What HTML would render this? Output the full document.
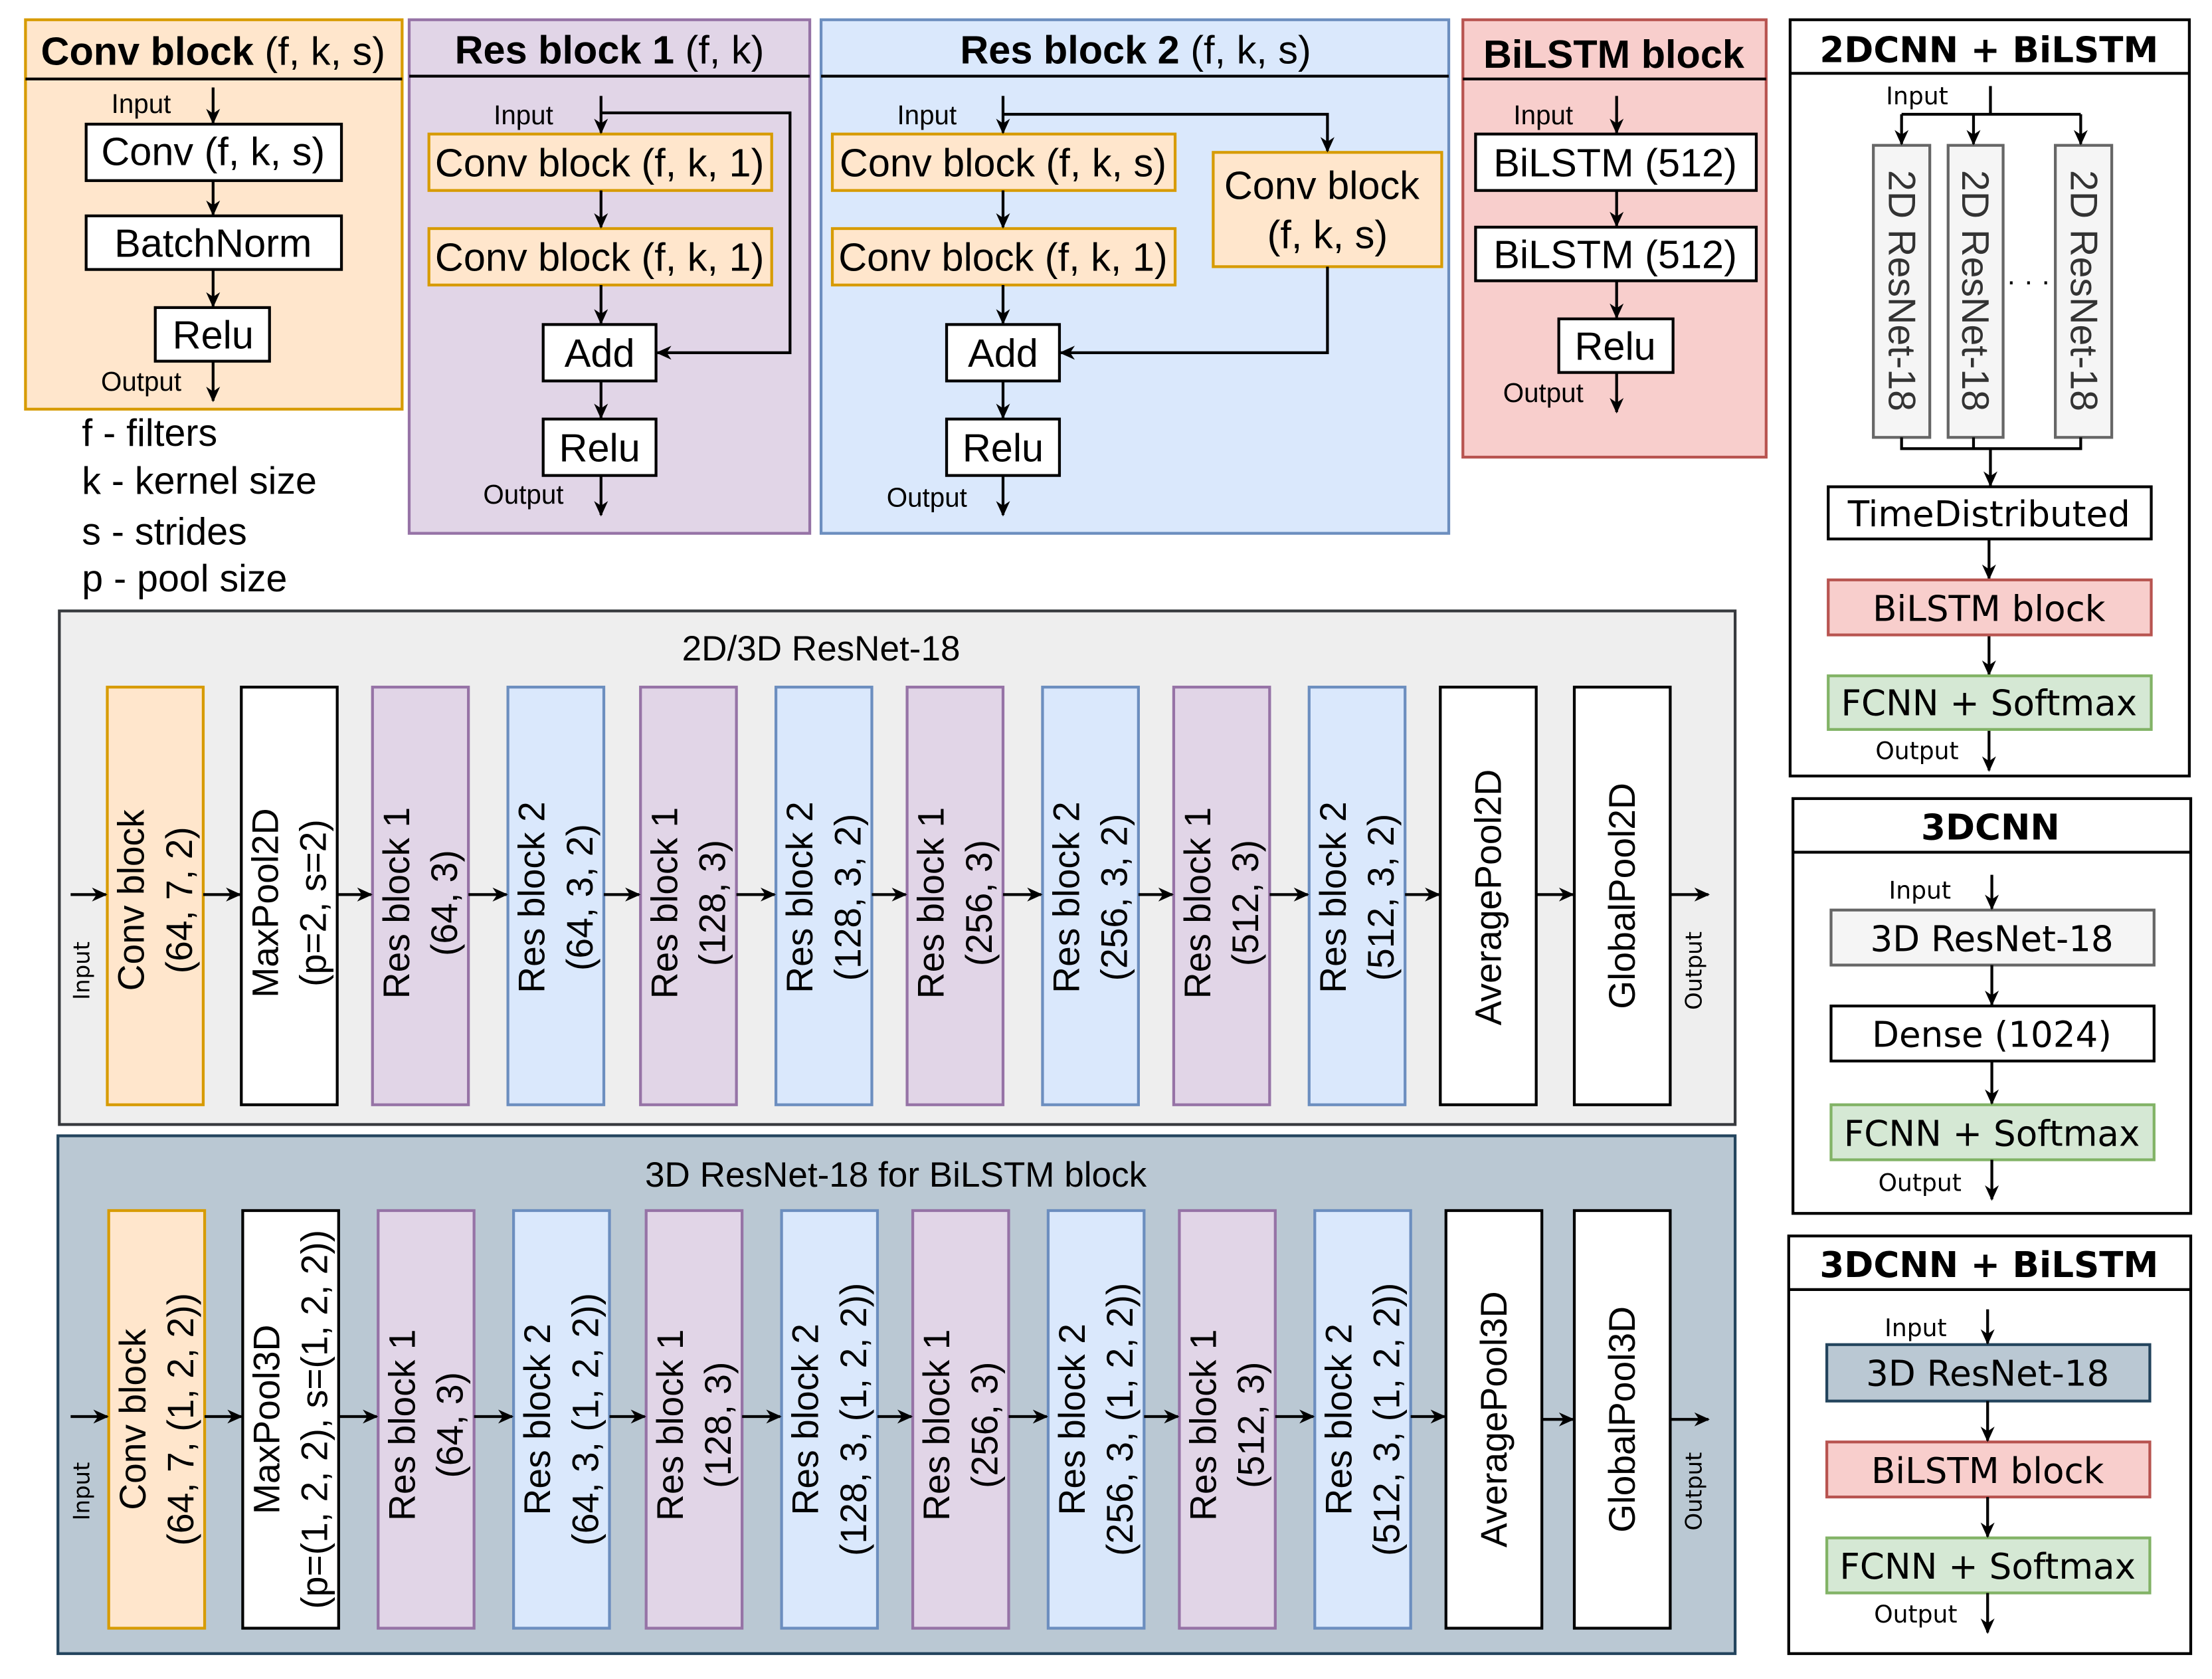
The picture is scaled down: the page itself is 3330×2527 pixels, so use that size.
<!DOCTYPE html>
<html><head><meta charset="utf-8"><style>
html,body{margin:0;padding:0;background:#fff}
svg{display:block}
.n{font-family:"Liberation Sans Narrow","Liberation Sans",sans-serif}
.s{font-family:"Liberation Sans",sans-serif}
.d{font-family:"DejaVu Sans","Liberation Sans",sans-serif}
</style></head><body>
<svg xmlns="http://www.w3.org/2000/svg" width="3330" height="2527" viewBox="0 0 1568 1190">
<defs>
<marker id="a" viewBox="0 0 10 10" refX="9" refY="5" markerWidth="11" markerHeight="11" orient="auto" markerUnits="userSpaceOnUse"><path d="M0,0.5 L10,5 L0,9.5 L3,5 Z" fill="#000"/></marker>
</defs>

<!-- Conv block panel -->
<rect x="18" y="14" width="267" height="276" fill="#ffe6cc" stroke="#d79b00" stroke-width="2"/>
<line x1="18" y1="56" x2="285" y2="56" stroke="#000" stroke-width="2"/>
<text class="n" x="151" y="46" font-size="28" text-anchor="middle"><tspan font-weight="bold">Conv block</tspan> (f, k, s)</text>
<text class="n" x="100" y="80" font-size="19" text-anchor="middle">Input</text>
<rect x="61" y="88" width="181" height="40" fill="#fff" stroke="#000" stroke-width="2"/>
<text class="n" x="151" y="117" font-size="28" text-anchor="middle">Conv (f, k, s)</text>
<rect x="61" y="153" width="181" height="38" fill="#fff" stroke="#000" stroke-width="2"/>
<text class="n" x="151" y="182" font-size="28" text-anchor="middle">BatchNorm</text>
<rect x="110" y="218" width="81" height="38" fill="#fff" stroke="#000" stroke-width="2"/>
<text class="n" x="151" y="247" font-size="28" text-anchor="middle">Relu</text>
<text class="n" x="100" y="277" font-size="19" text-anchor="middle">Output</text>
<g stroke="#000" stroke-width="2" marker-end="url(#a)">
<line x1="151" y1="62" x2="151" y2="87"/>
<line x1="151" y1="128" x2="151" y2="152"/>
<line x1="151" y1="191" x2="151" y2="217"/>
<line x1="151" y1="256" x2="151" y2="284"/>
</g>
<g class="n" font-size="27">
<text x="58" y="316">f - filters</text>
<text x="58" y="350">k - kernel size</text>
<text x="58" y="386">s - strides</text>
<text x="58" y="419">p - pool size</text>
</g>

<!-- Res block 1 -->
<rect x="290" y="14" width="284" height="364" fill="#e1d5e7" stroke="#9673a6" stroke-width="2"/>
<line x1="290" y1="54" x2="574" y2="54" stroke="#000" stroke-width="2"/>
<text class="n" x="432" y="45" font-size="28" text-anchor="middle"><tspan font-weight="bold">Res block 1</tspan> (f, k)</text>
<text class="n" x="371" y="88" font-size="19" text-anchor="middle">Input</text>
<rect x="304" y="95" width="243" height="40" fill="#ffe6cc" stroke="#d79b00" stroke-width="2"/>
<text class="n" x="425" y="125" font-size="28" text-anchor="middle">Conv block (f, k, 1)</text>
<rect x="304" y="162" width="243" height="40" fill="#ffe6cc" stroke="#d79b00" stroke-width="2"/>
<text class="n" x="425" y="192" font-size="28" text-anchor="middle">Conv block (f, k, 1)</text>
<rect x="385" y="230" width="80" height="40" fill="#fff" stroke="#000" stroke-width="2"/>
<text class="n" x="425" y="260" font-size="28" text-anchor="middle">Add</text>
<rect x="385" y="297" width="80" height="40" fill="#fff" stroke="#000" stroke-width="2"/>
<text class="n" x="425" y="327" font-size="28" text-anchor="middle">Relu</text>
<text class="n" x="371" y="357" font-size="19" text-anchor="middle">Output</text>
<g stroke="#000" stroke-width="2" fill="none" marker-end="url(#a)">
<line x1="426" y1="68" x2="426" y2="94"/>
<polyline points="426,80 560,80 560,250 466,250"/>
<line x1="426" y1="135" x2="426" y2="161"/>
<line x1="426" y1="202" x2="426" y2="229"/>
<line x1="426" y1="270" x2="426" y2="296"/>
<line x1="426" y1="337" x2="426" y2="365"/>
</g>

<!-- Res block 2 -->
<rect x="582" y="14" width="445" height="364" fill="#dae8fc" stroke="#6c8ebf" stroke-width="2"/>
<line x1="582" y1="54" x2="1027" y2="54" stroke="#000" stroke-width="2"/>
<text class="n" x="805" y="45" font-size="28" text-anchor="middle"><tspan font-weight="bold">Res block 2</tspan>  (f, k, s)</text>
<text class="n" x="657" y="88" font-size="19" text-anchor="middle">Input</text>
<rect x="590" y="95" width="243" height="40" fill="#ffe6cc" stroke="#d79b00" stroke-width="2"/>
<text class="n" x="711" y="125" font-size="28" text-anchor="middle">Conv block (f, k, s)</text>
<rect x="590" y="162" width="243" height="40" fill="#ffe6cc" stroke="#d79b00" stroke-width="2"/>
<text class="n" x="711" y="192" font-size="28" text-anchor="middle">Conv block (f, k, 1)</text>
<rect x="860" y="108" width="162" height="81" fill="#ffe6cc" stroke="#d79b00" stroke-width="2"/>
<text class="n" x="937" y="141" font-size="28" text-anchor="middle">Conv block</text>
<text class="n" x="941" y="176" font-size="28" text-anchor="middle">(f, k, s)</text>
<rect x="671" y="230" width="80" height="40" fill="#fff" stroke="#000" stroke-width="2"/>
<text class="n" x="711" y="260" font-size="28" text-anchor="middle">Add</text>
<rect x="671" y="297" width="80" height="40" fill="#fff" stroke="#000" stroke-width="2"/>
<text class="n" x="711" y="327" font-size="28" text-anchor="middle">Relu</text>
<text class="n" x="657" y="359" font-size="19" text-anchor="middle">Output</text>
<g stroke="#000" stroke-width="2" fill="none" marker-end="url(#a)">
<line x1="711" y1="68" x2="711" y2="94"/>
<polyline points="711,81 941,81 941,107"/>
<polyline points="941,189 941,250 752,250"/>
<line x1="711" y1="135" x2="711" y2="161"/>
<line x1="711" y1="202" x2="711" y2="229"/>
<line x1="711" y1="270" x2="711" y2="296"/>
<line x1="711" y1="337" x2="711" y2="365"/>
</g>

<!-- BiLSTM block -->
<rect x="1037" y="14" width="215" height="310" fill="#f8cecc" stroke="#b85450" stroke-width="2"/>
<line x1="1037" y1="56" x2="1252" y2="56" stroke="#000" stroke-width="2"/>
<text class="n" x="1144" y="48" font-size="28" font-weight="bold" text-anchor="middle">BiLSTM block</text>
<text class="n" x="1094" y="88" font-size="19" text-anchor="middle">Input</text>
<rect x="1046" y="95" width="199" height="40" fill="#fff" stroke="#000" stroke-width="2"/>
<text class="n" x="1145" y="125" font-size="28" text-anchor="middle">BiLSTM (512)</text>
<rect x="1046" y="161" width="199" height="38" fill="#fff" stroke="#000" stroke-width="2"/>
<text class="n" x="1145" y="190" font-size="28" text-anchor="middle">BiLSTM (512)</text>
<rect x="1105" y="226" width="81" height="38" fill="#fff" stroke="#000" stroke-width="2"/>
<text class="n" x="1145" y="255" font-size="28" text-anchor="middle">Relu</text>
<text class="n" x="1094" y="285" font-size="19" text-anchor="middle">Output</text>
<g stroke="#000" stroke-width="2" marker-end="url(#a)">
<line x1="1146" y1="68" x2="1146" y2="94"/>
<line x1="1146" y1="135" x2="1146" y2="160"/>
<line x1="1146" y1="199" x2="1146" y2="225"/>
<line x1="1146" y1="264" x2="1146" y2="292"/>
</g>

<!-- 2DCNN + BiLSTM -->
<rect x="1269" y="14" width="283" height="536" fill="#fff" stroke="#000" stroke-width="2"/>
<line x1="1269" y1="52" x2="1552" y2="52" stroke="#000" stroke-width="2"/>
<text class="d" x="1410" y="44" font-size="25" font-weight="bold" text-anchor="middle">2DCNN + BiLSTM</text>
<text class="d" x="1359" y="74" font-size="17" text-anchor="middle">Input</text>
<g fill="#f5f5f5" stroke="#666" stroke-width="2">
<rect x="1328" y="103" width="40" height="207"/>
<rect x="1381" y="103" width="39" height="207"/>
<rect x="1457" y="103" width="40" height="207"/>
</g>
<g class="s" font-size="27" fill="#333" text-anchor="middle">
<text transform="translate(1348,206) rotate(90)" dominant-baseline="central">2D ResNet-18</text>
<text transform="translate(1400,206) rotate(90)" dominant-baseline="central">2D ResNet-18</text>
<text transform="translate(1477,206) rotate(90)" dominant-baseline="central">2D ResNet-18</text>
</g>
<text class="s" x="1438" y="206" font-size="20" text-anchor="middle">· · ·</text>
<g stroke="#000" stroke-width="2" fill="none">
<line x1="1411" y1="61" x2="1411" y2="81"/>
<line x1="1348" y1="81" x2="1475" y2="81"/>
<polyline points="1348,310 1348,318 1475,318 1475,310"/>
<line x1="1399" y1="310" x2="1399" y2="318"/>
</g>
<g stroke="#000" stroke-width="2" marker-end="url(#a)">
<line x1="1348" y1="81" x2="1348" y2="102"/>
<line x1="1399" y1="81" x2="1399" y2="102"/>
<line x1="1475" y1="81" x2="1475" y2="102"/>
<line x1="1411" y1="318" x2="1411" y2="344"/>
<line x1="1410" y1="382" x2="1410" y2="410"/>
<line x1="1410" y1="450" x2="1410" y2="478"/>
<line x1="1410" y1="517" x2="1410" y2="546"/>
</g>
<rect x="1296" y="345" width="229" height="37" fill="#fff" stroke="#000" stroke-width="2"/>
<text class="d" x="1410" y="373" font-size="25" text-anchor="middle">TimeDistributed</text>
<rect x="1296" y="411" width="229" height="39" fill="#f8cecc" stroke="#b85450" stroke-width="2"/>
<text class="d" x="1410" y="440" font-size="25" text-anchor="middle">BiLSTM block</text>
<rect x="1296" y="479" width="229" height="38" fill="#d5e8d4" stroke="#82b366" stroke-width="2"/>
<text class="d" x="1410" y="507" font-size="25" text-anchor="middle">FCNN + Softmax</text>
<text class="d" x="1359" y="538" font-size="17" text-anchor="middle">Output</text>

<!-- 3DCNN -->
<rect x="1271" y="566" width="282" height="294" fill="#fff" stroke="#000" stroke-width="2"/>
<line x1="1271" y1="604" x2="1553" y2="604" stroke="#000" stroke-width="2"/>
<text class="d" x="1411" y="595" font-size="25" font-weight="bold" text-anchor="middle">3DCNN</text>
<text class="d" x="1361" y="637" font-size="17" text-anchor="middle">Input</text>
<rect x="1298" y="645" width="229" height="39" fill="#f5f5f5" stroke="#666" stroke-width="2"/>
<text class="d" x="1412" y="674" font-size="25" text-anchor="middle">3D ResNet-18</text>
<rect x="1298" y="713" width="229" height="39" fill="#fff" stroke="#000" stroke-width="2"/>
<text class="d" x="1412" y="742" font-size="25" text-anchor="middle">Dense (1024)</text>
<rect x="1298" y="783" width="229" height="39" fill="#d5e8d4" stroke="#82b366" stroke-width="2"/>
<text class="d" x="1412" y="812" font-size="25" text-anchor="middle">FCNN + Softmax</text>
<text class="d" x="1361" y="844" font-size="17" text-anchor="middle">Output</text>
<g stroke="#000" stroke-width="2" marker-end="url(#a)">
<line x1="1412" y1="620" x2="1412" y2="644"/>
<line x1="1412" y1="684" x2="1412" y2="712"/>
<line x1="1412" y1="752" x2="1412" y2="782"/>
<line x1="1412" y1="822" x2="1412" y2="850"/>
</g>

<!-- 3DCNN + BiLSTM -->
<rect x="1268" y="876" width="285" height="296" fill="#fff" stroke="#000" stroke-width="2"/>
<line x1="1268" y1="914" x2="1553" y2="914" stroke="#000" stroke-width="2"/>
<text class="d" x="1410" y="905" font-size="25" font-weight="bold" text-anchor="middle">3DCNN + BiLSTM</text>
<text class="d" x="1358" y="947" font-size="17" text-anchor="middle">Input</text>
<rect x="1295" y="953" width="229" height="40" fill="#bac8d3" stroke="#23445d" stroke-width="2"/>
<text class="d" x="1409" y="982" font-size="25" text-anchor="middle">3D ResNet-18</text>
<rect x="1295" y="1022" width="229" height="39" fill="#f8cecc" stroke="#b85450" stroke-width="2"/>
<text class="d" x="1409" y="1051" font-size="25" text-anchor="middle">BiLSTM block</text>
<rect x="1295" y="1090" width="229" height="39" fill="#d5e8d4" stroke="#82b366" stroke-width="2"/>
<text class="d" x="1409" y="1119" font-size="25" text-anchor="middle">FCNN + Softmax</text>
<text class="d" x="1358" y="1150" font-size="17" text-anchor="middle">Output</text>
<g stroke="#000" stroke-width="2" marker-end="url(#a)">
<line x1="1409" y1="928" x2="1409" y2="952"/>
<line x1="1409" y1="993" x2="1409" y2="1021"/>
<line x1="1409" y1="1061" x2="1409" y2="1089"/>
<line x1="1409" y1="1129" x2="1409" y2="1157"/>
</g>

<!-- 2D/3D ResNet-18 -->
<rect x="42" y="433" width="1188" height="364" fill="#eeeeee" stroke="#36393d" stroke-width="2"/>
<text class="s" x="582" y="468" font-size="25" text-anchor="middle">2D/3D ResNet-18</text>
<g stroke-width="2">
<rect x="76" y="487" width="68" height="296" fill="#ffe6cc" stroke="#d79b00"/>
<rect x="171" y="487" width="68" height="296" fill="#fff" stroke="#000"/>
<rect x="264" y="487" width="68" height="296" fill="#e1d5e7" stroke="#9673a6"/>
<rect x="360" y="487" width="68" height="296" fill="#dae8fc" stroke="#6c8ebf"/>
<rect x="454" y="487" width="68" height="296" fill="#e1d5e7" stroke="#9673a6"/>
<rect x="550" y="487" width="68" height="296" fill="#dae8fc" stroke="#6c8ebf"/>
<rect x="643" y="487" width="68" height="296" fill="#e1d5e7" stroke="#9673a6"/>
<rect x="739" y="487" width="68" height="296" fill="#dae8fc" stroke="#6c8ebf"/>
<rect x="832" y="487" width="68" height="296" fill="#e1d5e7" stroke="#9673a6"/>
<rect x="928" y="487" width="68" height="296" fill="#dae8fc" stroke="#6c8ebf"/>
<rect x="1021" y="487" width="68" height="296" fill="#fff" stroke="#000"/>
<rect x="1116" y="487" width="68" height="296" fill="#fff" stroke="#000"/>
</g>
<g class="s" font-size="26" text-anchor="middle" dominant-baseline="central">
<text transform="translate(110,638) rotate(-90)"><tspan x="0" y="-17">Conv block</tspan><tspan x="0" y="17">(64, 7, 2)</tspan></text>
<text transform="translate(205,640) rotate(-90)"><tspan x="0" y="-17">MaxPool2D</tspan><tspan x="0" y="17">(p=2, s=2)</tspan></text>
<text transform="translate(298,640) rotate(-90)"><tspan x="0" y="-17">Res block 1</tspan><tspan x="0" y="17">(64, 3)</tspan></text>
<text transform="translate(394,636) rotate(-90)"><tspan x="0" y="-17">Res block 2</tspan><tspan x="0" y="17">(64, 3, 2)</tspan></text>
<text transform="translate(488,640) rotate(-90)"><tspan x="0" y="-17">Res block 1</tspan><tspan x="0" y="17">(128, 3)</tspan></text>
<text transform="translate(584,636) rotate(-90)"><tspan x="0" y="-17">Res block 2</tspan><tspan x="0" y="17">(128, 3, 2)</tspan></text>
<text transform="translate(677,640) rotate(-90)"><tspan x="0" y="-17">Res block 1</tspan><tspan x="0" y="17">(256, 3)</tspan></text>
<text transform="translate(773,636) rotate(-90)"><tspan x="0" y="-17">Res block 2</tspan><tspan x="0" y="17">(256, 3, 2)</tspan></text>
<text transform="translate(866,640) rotate(-90)"><tspan x="0" y="-17">Res block 1</tspan><tspan x="0" y="17">(512, 3)</tspan></text>
<text transform="translate(962,636) rotate(-90)"><tspan x="0" y="-17">Res block 2</tspan><tspan x="0" y="17">(512, 3, 2)</tspan></text>
<text transform="translate(1055,636) rotate(-90)">AveragePool2D</text>
<text transform="translate(1150,635) rotate(-90)">GlobalPool2D</text>
</g>
<text class="d" transform="translate(58,688) rotate(-90)" font-size="16" text-anchor="middle" dominant-baseline="central">Input</text>
<text class="d" transform="translate(1201,688) rotate(-90)" font-size="16" text-anchor="middle" dominant-baseline="central">Output</text>
<g stroke="#000" stroke-width="2" marker-end="url(#a)">
<line x1="50" y1="634" x2="75" y2="634"/>
<line x1="144" y1="634" x2="170" y2="634"/>
<line x1="239" y1="634" x2="263" y2="634"/>
<line x1="332" y1="634" x2="359" y2="634"/>
<line x1="428" y1="634" x2="453" y2="634"/>
<line x1="522" y1="634" x2="549" y2="634"/>
<line x1="618" y1="634" x2="642" y2="634"/>
<line x1="711" y1="634" x2="738" y2="634"/>
<line x1="807" y1="634" x2="831" y2="634"/>
<line x1="900" y1="634" x2="927" y2="634"/>
<line x1="996" y1="634" x2="1020" y2="634"/>
<line x1="1089" y1="634" x2="1115" y2="634"/>
<line x1="1184" y1="634" x2="1211" y2="634"/>
</g>

<!-- 3D ResNet-18 for BiLSTM -->
<rect x="41" y="805" width="1189" height="367" fill="#bac8d3" stroke="#23445d" stroke-width="2"/>
<text class="s" x="635" y="841" font-size="25" text-anchor="middle">3D ResNet-18 for BiLSTM block</text>
<g stroke-width="2">
<rect x="77" y="858" width="68" height="296" fill="#ffe6cc" stroke="#d79b00"/>
<rect x="172" y="858" width="68" height="296" fill="#fff" stroke="#000"/>
<rect x="268" y="858" width="68" height="296" fill="#e1d5e7" stroke="#9673a6"/>
<rect x="364" y="858" width="68" height="296" fill="#dae8fc" stroke="#6c8ebf"/>
<rect x="458" y="858" width="68" height="296" fill="#e1d5e7" stroke="#9673a6"/>
<rect x="554" y="858" width="68" height="296" fill="#dae8fc" stroke="#6c8ebf"/>
<rect x="647" y="858" width="68" height="296" fill="#e1d5e7" stroke="#9673a6"/>
<rect x="743" y="858" width="68" height="296" fill="#dae8fc" stroke="#6c8ebf"/>
<rect x="836" y="858" width="68" height="296" fill="#e1d5e7" stroke="#9673a6"/>
<rect x="932" y="858" width="68" height="296" fill="#dae8fc" stroke="#6c8ebf"/>
<rect x="1025" y="858" width="68" height="296" fill="#fff" stroke="#000"/>
<rect x="1116" y="858" width="68" height="296" fill="#fff" stroke="#000"/>
</g>
<g class="s" font-size="26" text-anchor="middle" dominant-baseline="central">
<text transform="translate(111,1006) rotate(-90)"><tspan x="0" y="-17">Conv block</tspan><tspan x="0" y="17">(64, 7, (1, 2, 2))</tspan></text>
<text transform="translate(206,1006) rotate(-90)"><tspan x="0" y="-17">MaxPool3D</tspan><tspan x="0" y="17">(p=(1, 2, 2), s=(1, 2, 2))</tspan></text>
<text transform="translate(302,1010) rotate(-90)"><tspan x="0" y="-17">Res block 1</tspan><tspan x="0" y="17">(64, 3)</tspan></text>
<text transform="translate(398,1006) rotate(-90)"><tspan x="0" y="-17">Res block 2</tspan><tspan x="0" y="17">(64, 3, (1, 2, 2))</tspan></text>
<text transform="translate(492,1010) rotate(-90)"><tspan x="0" y="-17">Res block 1</tspan><tspan x="0" y="17">(128, 3)</tspan></text>
<text transform="translate(588,1006) rotate(-90)"><tspan x="0" y="-17">Res block 2</tspan><tspan x="0" y="17">(128, 3, (1, 2, 2))</tspan></text>
<text transform="translate(681,1010) rotate(-90)"><tspan x="0" y="-17">Res block 1</tspan><tspan x="0" y="17">(256, 3)</tspan></text>
<text transform="translate(777,1006) rotate(-90)"><tspan x="0" y="-17">Res block 2</tspan><tspan x="0" y="17">(256, 3, (1, 2, 2))</tspan></text>
<text transform="translate(870,1010) rotate(-90)"><tspan x="0" y="-17">Res block 1</tspan><tspan x="0" y="17">(512, 3)</tspan></text>
<text transform="translate(966,1006) rotate(-90)"><tspan x="0" y="-17">Res block 2</tspan><tspan x="0" y="17">(512, 3, (1, 2, 2))</tspan></text>
<text transform="translate(1059,1006) rotate(-90)">AveragePool3D</text>
<text transform="translate(1150,1006) rotate(-90)">GlobalPool3D</text>
</g>
<text class="d" transform="translate(58,1057) rotate(-90)" font-size="16" text-anchor="middle" dominant-baseline="central">Input</text>
<text class="d" transform="translate(1201,1057) rotate(-90)" font-size="16" text-anchor="middle" dominant-baseline="central">Output</text>
<g stroke="#000" stroke-width="2" marker-end="url(#a)">
<line x1="50" y1="1004" x2="76" y2="1004"/>
<line x1="145" y1="1004" x2="171" y2="1004"/>
<line x1="240" y1="1004" x2="267" y2="1004"/>
<line x1="336" y1="1004" x2="363" y2="1004"/>
<line x1="432" y1="1004" x2="457" y2="1004"/>
<line x1="526" y1="1004" x2="553" y2="1004"/>
<line x1="622" y1="1004" x2="646" y2="1004"/>
<line x1="715" y1="1004" x2="742" y2="1004"/>
<line x1="811" y1="1004" x2="835" y2="1004"/>
<line x1="904" y1="1004" x2="931" y2="1004"/>
<line x1="1000" y1="1004" x2="1024" y2="1004"/>
<line x1="1093" y1="1006" x2="1115" y2="1006"/>
<line x1="1184" y1="1006" x2="1211" y2="1006"/>
</g>
</svg>
</body></html>
